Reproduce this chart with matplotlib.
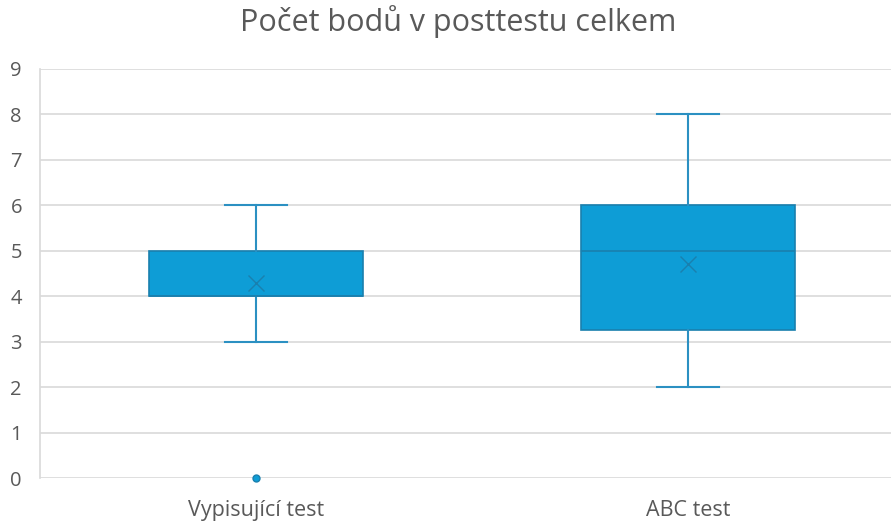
import matplotlib.pyplot as plt

plt.rcParams['font.family'] = ['Open Sans', 'DejaVu Sans']

categories = ['Vypisující test', 'ABC test']
whisker_low = [3, 2]
q1 = [4, 3.25]
medians = [4, 5]
q3 = [5, 6]
whisker_high = [6, 8]
means = [4.3, 4.72]
outliers = [[0], []]

box_color = '#0E9DD6'
edge_color = '#1A80AE'
line_color = '#2B90C2'
text_color = '#595959'
grid_color = '#D9D9D9'

stats = []
for i, name in enumerate(categories):
    stats.append({'label': name, 'whislo': whisker_low[i], 'q1': q1[i],
                  'med': medians[i], 'q3': q3[i], 'whishi': whisker_high[i],
                  'mean': means[i], 'fliers': outliers[i]})

fig = plt.figure(figsize=(8.91, 5.26), dpi=100)
ax = fig.add_axes([40 / 891, 48 / 526, 851 / 891, 409 / 526])

positions = [1, 2]
ax.bxp(stats, positions=positions, widths=0.495, patch_artist=True,
       showmeans=True, showfliers=True,
       boxprops=dict(facecolor=box_color, edgecolor=edge_color, linewidth=1.2),
       medianprops=dict(color=edge_color, linewidth=1.2),
       whiskerprops=dict(color=line_color, linewidth=1.5),
       capprops=dict(color=line_color, linewidth=1.5),
       capwidths=0.145,
       meanprops=dict(marker='x', markeredgecolor=edge_color, markersize=12,
                      markeredgewidth=1.0),
       flierprops=dict(marker='o', markerfacecolor=box_color,
                       markeredgecolor=edge_color, markersize=5))
for line in ax.lines:
    line.set_clip_on(False)

ax.set_xlim(0.5, 2.47)
ax.set_ylim(0, 9)
ax.set_yticks(range(0, 10))
ax.yaxis.grid(True, color=grid_color, linewidth=1.2)
ax.set_axisbelow(True)
for side in ['top', 'right', 'bottom']:
    ax.spines[side].set_visible(False)
ax.spines['left'].set_color(grid_color)
ax.spines['left'].set_linewidth(1.2)
ax.tick_params(axis='both', length=0, labelsize=14.5, colors=text_color)
ax.tick_params(axis='x', labelsize=15.5)
ax.tick_params(axis='y', pad=13)
ax.tick_params(axis='x', pad=16)
ax.set_xticks(positions, categories)

fig.text(458 / 891, 1 - 22 / 526, 'Počet bodů v posttestu celkem', ha='center',
         va='center', fontsize=22, color=text_color)

fig.savefig('out.png', dpi=100)
